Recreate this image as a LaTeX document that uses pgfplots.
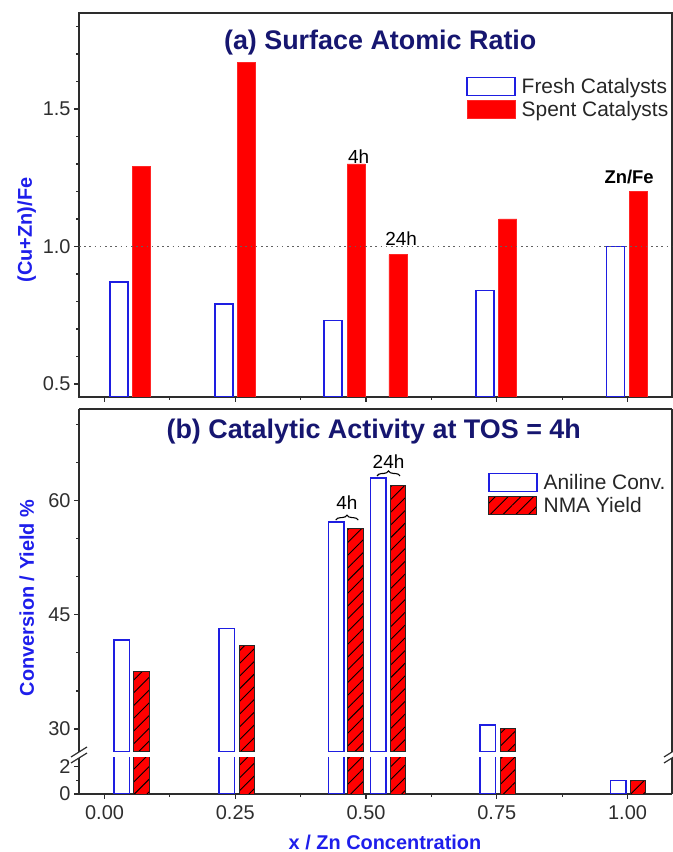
\documentclass[border=0pt]{standalone}
\usepackage{fontspec}
\setmainfont{Liberation Sans}
\usepackage{pgfplots}
\pgfplotsset{compat=1.18}
\usetikzlibrary{patterns.meta,decorations.pathreplacing}
\definecolor{fblue}{RGB}{30,30,225}
\definecolor{navy}{RGB}{22,22,112}
\definecolor{lblue}{RGB}{30,30,235}
\definecolor{axc}{RGB}{45,45,45}
\definecolor{sred}{RGB}{255,0,0}

\pgfplotsset{
  mystyle/.style={
    scale only axis,
    xmin=-0.0488, xmax=1.085,
    axis line style={line width=1.2bp, axc},
    tick style={line width=1.1bp, axc},
    major tick length=5bp, minor tick length=3bp,
    tick align=outside,
    ticklabel style={font=\fontsize{20}{24}\selectfont, text=black!82},
    /pgf/number format/assume math mode=true,
    label style={font=\bfseries\fontsize{20}{24}\selectfont, text=lblue},
    legend style={draw=none, fill=none, font=\fontsize{21}{25}\selectfont,
      text=black!85, nodes={inner sep=2bp}, row sep=2.5bp, column sep=4bp, cells={anchor=west}},
    legend image code/.code={\draw[#1] (0bp,-9bp) rectangle (48bp,9bp);},
  },
  freshbar/.style={ybar, bar shift=0pt, fill=white, draw=fblue, line width=1.5bp},
  spentbar/.style={ybar, bar shift=0pt, fill=sred, draw=sred!85!white, line width=0.8bp},
  nmabar/.style={ybar, bar shift=0pt, fill=sred, draw=black!85, line width=1bp,
      postaction={pattern={Lines[angle=45,distance=9bp,line width=0.9bp]}, pattern color=black}},
}

\begin{document}
\begin{tikzpicture}
\useasboundingbox (0,0) rectangle (673bp,852bp);

% ---------------- panel (a) ----------------
\begin{axis}[mystyle, name=top, at={(79bp,455bp)}, anchor=south west,
  width=593bp, height=384bp,
  ymin=0.4527, ymax=1.849,
  xtick={0,0.25,0.5,0.75,1}, minor xtick={0.125,0.375,0.625,0.875}, xticklabels={},
  xtick pos=bottom, ytick pos=left,
  ytick={0.5,1.0,1.5}, minor ytick={0.6,0.7,0.8,0.9,1.1,1.2,1.3,1.4,1.6,1.7,1.8},
  yticklabel style={/pgf/number format/.cd, fixed, fixed zerofill, precision=1},
  ylabel={(Cu+Zn)/Fe},
  ylabel style={at={(axis description cs:-0.088,0.435)}, anchor=center},
  legend style={at={(axis description cs:0.6476,0.8417)}, anchor=north west},
]
\addplot[freshbar, bar width=18bp] coordinates {(0.028,0.87) (0.228,0.79) (0.437,0.73) (0.727,0.84) (0.977,1.00)};
\addlegendentry{Fresh Catalysts}
\addplot[spentbar, bar width=18bp] coordinates {(0.071,1.29) (0.271,1.67) (0.481,1.30) (0.561,0.97) (0.771,1.10) (1.020,1.20)};
\addlegendentry{Spent Catalysts}
\addplot[forget plot, dash pattern=on 1.6bp off 3.6bp, line width=1.5bp, black!62] coordinates {(-0.0488,1) (1.085,1)};
\node[font=\bfseries\fontsize{27}{30}\selectfont, text=navy] at (axis description cs:0.508,0.922) {(a) Surface Atomic Ratio};
\node[font=\fontsize{19}{22}\selectfont] at (axis cs:0.486,1.326) {4h};
\node[font=\fontsize{19}{22}\selectfont] at (axis cs:0.567,1.028) {24h};
\node[font=\bfseries\fontsize{18.5}{22}\selectfont] at (axis cs:1.003,1.251) {Zn/Fe};
\end{axis}

% ---------------- panel (b), upper segment ----------------
\begin{axis}[mystyle, name=upb, at={(79bp,100bp)}, anchor=south west,
  width=593bp, height=343bp,
  ymin=26.98, ymax=72.05,
  axis x line*=top, axis y line*=left, xtick=\empty,
  ytick={30,45,60}, minor ytick={35,40,50,55,65,70},
  ylabel={Conversion / Yield \%},
  ylabel style={at={(axis description cs:-0.088,0.449)}, anchor=center},
  legend style={at={(axis description cs:0.6846,0.8227)}, anchor=north west},
]
\addplot[freshbar, bar width=15.5bp] coordinates {(0.033,41.7) (0.234,43.2) (0.443,57.2) (0.523,63.0) (0.733,30.5)};
\addlegendentry{Aniline Conv.}
\addplot[nmabar, bar width=15.5bp] coordinates {(0.071,37.5) (0.272,41.0) (0.480,56.3) (0.561,62.0) (0.771,30.1)};
\addlegendentry{NMA Yield}
\node[font=\bfseries\fontsize{27}{30}\selectfont, text=navy] at (axis description cs:0.497,0.933) {(b) Catalytic Activity at TOS = 4h};
\draw[line width=1.1bp, decorate, decoration={brace, amplitude=5bp}] (axis cs:0.442,57.45) -- (axis cs:0.485,57.45);
\node[font=\fontsize{19}{22}\selectfont] at (axis cs:0.4635,59.75) {4h};
\draw[line width=1.1bp, decorate, decoration={brace, amplitude=5bp}] (axis cs:0.521,63.25) -- (axis cs:0.565,63.25);
\node[font=\fontsize{19}{22}\selectfont] at (axis cs:0.543,65.1) {24h};
\end{axis}

% ---------------- panel (b), lower segment ----------------
\begin{axis}[mystyle, name=low, at={(79bp,58bp)}, anchor=south west,
  width=593bp, height=36bp,
  ymin=0, ymax=2.62,
  axis x line*=bottom, axis y line*=left,
  xtick={0,0.25,0.5,0.75,1}, minor xtick={0.125,0.375,0.625,0.875},
  xticklabel style={yshift=-3bp, /pgf/number format/.cd, fixed, fixed zerofill, precision=2},
  ytick={0,2}, minor ytick={1},
  xlabel={x / Zn Concentration},
  xlabel style={at={(axis description cs:0.516,0)}, anchor=center, yshift=-48bp},
]
\addplot[freshbar, bar width=15.5bp] coordinates {(0.033,41.7) (0.234,43.2) (0.443,57.2) (0.523,63.0) (0.733,30.5) (0.982,1.0)};
\addplot[nmabar, bar width=15.5bp] coordinates {(0.071,37.5) (0.272,41.0) (0.480,56.3) (0.561,62.0) (0.771,30.1) (1.020,1.0)};
\end{axis}

% right spines and break marks
\draw[line width=1.2bp, axc] (upb.south east) -- (upb.north east);
\draw[line width=1.2bp, axc] (low.south east) -- (low.north east);
\draw[line width=1.2bp, axc] ([shift={(-8bp,-5bp)}]upb.south west) -- ([shift={(8bp,5bp)}]upb.south west);
\draw[line width=1.2bp, axc] ([shift={(-8bp,-5bp)}]low.north west) -- ([shift={(8bp,5bp)}]low.north west);
\draw[line width=1.2bp, axc] ([shift={(-8bp,-5bp)}]upb.south east) -- ([shift={(8bp,5bp)}]upb.south east);
\draw[line width=1.2bp, axc] ([shift={(-8bp,-5bp)}]low.north east) -- ([shift={(8bp,5bp)}]low.north east);
\end{tikzpicture}
\end{document}
